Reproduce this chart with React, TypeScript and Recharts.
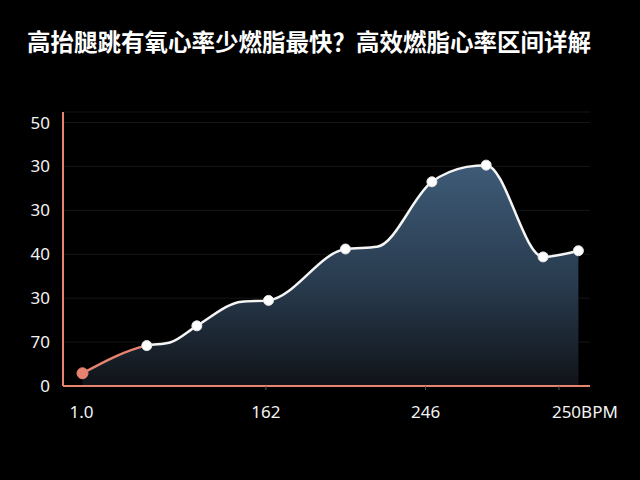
import React from 'react';
import {
  AreaChart,
  Area,
  XAxis,
  YAxis,
  CartesianGrid,
} from 'recharts';

const title = '高抬腿跳有氧心率少燃脂最快？高效燃脂心率区间详解';

// x position of each sample on a 0-100 scale
const bpm = [3.7, 15.9, 20.3, 25.4, 33.9, 39.0, 53.6, 59.6, 70.0, 76.6, 80.3, 91.1, 97.8];
const rate = [2.9, 9.2, 9.9, 13.7, 19.2, 19.5, 31.2, 31.7, 46.5, 49.9, 50.3, 29.4, 30.8];
const marked = [true, true, false, true, false, true, true, false, true, false, true, true, true];

const xTicks = [3.5, 38.5, 68.8, 94.1];
const xLabels = ['1.0', '162', '246', '250BPM'];
const yTicks = [0, 10, 20, 30, 40, 50, 60];
const yLabels = ['0', '70', '30', '40', '30', '30', '50'];

const data = bpm.map((x, i) => ({ x, rate: rate[i], marked: marked[i] }));

const AXIS = '#e8836f';
const FONT = '"Noto Sans", "DejaVu Sans", sans-serif';

const XTick = (props: any) => {
  const { x, y, payload, index } = props;
  const i = xTicks.indexOf(payload.value);
  const last = i === xTicks.length - 1;
  return (
    <g>
      {index > 0 && <line x1={x} x2={x} y1={y - 20} y2={y - 16} stroke="#555" strokeWidth={1} />}
      <text
        x={x}
        y={y}
        dy="0.71em"
        dx={last ? -7 : 0}
        textAnchor={last ? 'start' : 'middle'}
        fill="#f2f2f2"
        fontSize={17}
        fontFamily={FONT}
      >
        {xLabels[i]}
      </text>
    </g>
  );
};

const Dot = (props: any) => {
  const { cx, cy, payload, index } = props;
  if (!payload.marked) return <g key={`d-${index}`} />;
  const first = index === 0;
  return (
    <circle
      key={`d-${index}`}
      cx={cx}
      cy={cy}
      r={first ? 5.5 : 5}
      fill={first ? AXIS : '#ffffff'}
      stroke={first ? AXIS : '#e6e6e6'}
      strokeWidth={1}
    />
  );
};

export default function App() {
  return (
    <div
      style={{
        position: 'fixed',
        left: 0,
        top: 0,
        width: 640,
        height: 480,
        background: '#000',
        overflow: 'hidden',
      }}
    >
      <div
        style={{
          position: 'absolute',
          left: 27,
          top: 27,
          color: '#fff',
          fontSize: 23.5,
          lineHeight: 1.2,
          fontWeight: 700,
          fontFamily: '"Noto Sans CJK SC", sans-serif',
          whiteSpace: 'nowrap',
        }}
      >
        {title}
      </div>
      <div style={{ position: 'absolute', left: 0, top: 0 }}>
        <AreaChart
          width={640}
          height={480}
          data={data}
          margin={{ top: 112, right: 50, bottom: 54, left: 0 }}
        >
          <defs>
            <linearGradient id="areaFill" x1="0" y1="0" x2="0" y2="1">
              <stop offset="0%" stopColor="#3e5b77" />
              <stop offset="55%" stopColor="#283a4d" />
              <stop offset="100%" stopColor="#101318" />
            </linearGradient>
            <linearGradient id="lineStroke" x1="0" y1="0" x2="1" y2="0">
              <stop offset="0%" stopColor={AXIS} />
              <stop offset="13%" stopColor={AXIS} />
              <stop offset="13%" stopColor="#f5f5f5" />
              <stop offset="100%" stopColor="#f5f5f5" />
            </linearGradient>
          </defs>
          <CartesianGrid vertical={false} stroke="#151515" />
          <XAxis
            dataKey="x"
            type="number"
            domain={[0, 100]}
            ticks={xTicks}
            tick={<XTick />}
            tickLine={false}
            tickSize={4}
            tickMargin={16}
            height={40}
            axisLine={{ stroke: AXIS, strokeWidth: 2 }}
          />
          <YAxis
            type="number"
            domain={[0, 62.4]}
            ticks={yTicks}
            tickFormatter={(v: number) => yLabels[yTicks.indexOf(v)]}
            width={63}
            tickLine={false}
            tickMargin={7}
            tick={{ fill: '#f2f2f2', fontSize: 17, fontFamily: FONT }}
            axisLine={{ stroke: AXIS, strokeWidth: 2 }}
          />
          <Area
            type="monotone"
            dataKey="rate"
            stroke="url(#lineStroke)"
            strokeWidth={2.5}
            fill="url(#areaFill)"
            fillOpacity={1}
            dot={Dot}
            activeDot={false}
            isAnimationActive={false}
          />
        </AreaChart>
      </div>
    </div>
  );
}
